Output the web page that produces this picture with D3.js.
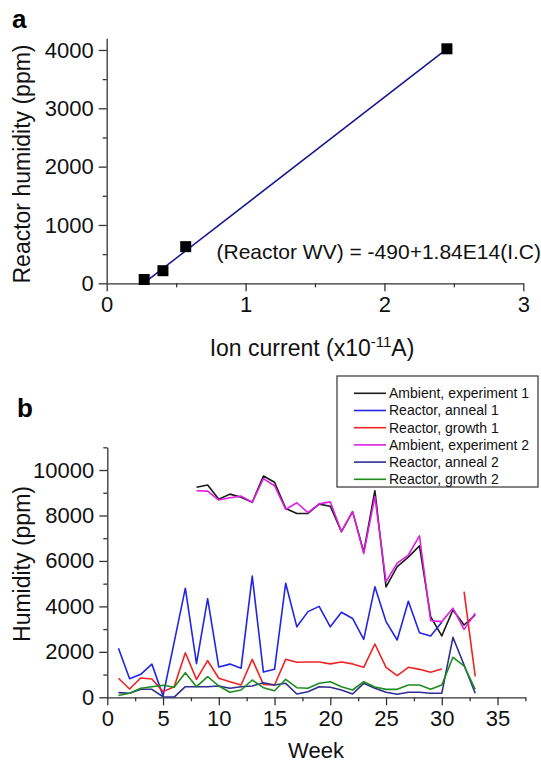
<!DOCTYPE html>
<html>
<head>
<meta charset="utf-8">
<script src="https://cdn.jsdelivr.net/npm/d3@7"></script>
<style>
  body { margin: 0; background: #fff; }
  svg { display: block; font-family: Arial, "Liberation Sans", sans-serif; }
  .axis path, .axis line { stroke: #333; stroke-width: 1.3; }
  .axis text { fill: #111; font-size: 22px; }
</style>
</head>
<body>
<svg id="chart" width="541" height="764"></svg>
<script>
// panel a: calibration points
const ionCurrent = [0.27, 0.405, 0.569, 2.45];
const reactorHumidity = [65, 216, 628, 4020];
const fitIntercept = -490;
const fitSlope = 1840;   // ppm per 1e-11 A
const fitRange = [0.27, 2.45];

// panel b: weekly humidity
const weeks = d3.range(1, 34);
const ambient1 = [null, null, null, null, null, null, null,
  9240, 9340, 8710, 8940, 8800, 8580, 9735, 9460, 8310, 8090, 8090, 8500, 8410, 7290,
  8170, 6400, 9090, 4860, 5750, 6170, 6660, 3550, 2700, 3840, 3180, 3620];
const anneal1 = [2160, 820, 1010, 1460, 60, 2430, 4800, 1480, 4340, 1330, 1460, 1280,
  5330, 1110, 1230, 5020, 3100, 3770, 4000, 3100, 3740, 3470, 2550, 4860, 3330, 2520,
  4230, 2840, 2700, 3300, null, null, null];
const growth1 = [840, 365, 850, 805, 250, 466, 1960, 790, 1610, 836, 686, 540, 1670,
  570, 540, 1670, 1540, 1550, 1550, 1470, 1550, 1470, 1320, 2346, 1320, 950, 1320,
  1230, 1100, 1250, null, 4650, 920];
const ambient2 = [null, null, null, null, null, null, null,
  9090, 9070, 8680, 8780, 8850, 8580, 9620, 9310, 8270, 8560, 8130, 8510, 8600, 7290,
  8170, 6330, 8830, 5090, 5900, 6260, 7100, 3370, 3330, 3920, 2990, 3700];
const anneal2 = [205, 176, 352, 352, 26, 10, 466, 466, 466, 497, 396, 466, 497, 640,
  540, 616, 147, 248, 466, 440, 321, 145, 616, 396, 220, 132, 220, 220, 176, 176,
  2640, 1420, 176];
const growth2 = [80, 176, 396, 466, 528, 440, 1080, 466, 906, 497, 220, 321, 761, 422,
  290, 792, 422, 396, 616, 686, 466, 321, 686, 450, 350, 350, 541, 541, 350, 541,
  1760, 1380, 350];

const seriesNames = ["Ambient, experiment 1", "Reactor, anneal 1", "Reactor, growth 1",
  "Ambient, experiment 2", "Reactor, anneal 2", "Reactor, growth 2"];
const seriesValues = [ambient1, anneal1, growth1, ambient2, anneal2, growth2];
const seriesColors = ["#1a1a1a", "#2424e6", "#ee2424", "#e020e0", "#2e2e90", "#1e8c1e"];

const svg = d3.select("#chart");

// helper: major axis with labels + minor ticks without labels
function drawAxis(g, axisFn, scale, major, minor) {
  g.append("g").attr("class", "axis")
    .call(axisFn(scale).tickValues(minor).tickSize(4).tickSizeOuter(0).tickFormat(""))
    .call(a => a.select(".domain").remove());
  g.append("g").attr("class", "axis")
    .call(axisFn(scale).tickValues(major).tickSize(8).tickSizeOuter(0).tickPadding(5).tickFormat(d3.format("d")));
}

// ---------- panel a ----------
const xa = d3.scaleLinear().domain([0, 3]).range([106.7, 523.3]);
const ya = d3.scaleLinear().domain([0, 4200]).range([283.3, 38.3]);

const ga = svg.append("g");
drawAxis(ga.append("g").attr("transform", "translate(0,283.3)"), d3.axisBottom, xa,
  [0, 1, 2, 3], [0.5, 1.5, 2.5]);
drawAxis(ga.append("g").attr("transform", "translate(106.7,0)"), d3.axisLeft, ya,
  [0, 1000, 2000, 3000, 4000], [500, 1500, 2500, 3500]);

ga.append("line")
  .attr("x1", xa(fitRange[0])).attr("y1", ya(fitIntercept + fitSlope * fitRange[0]))
  .attr("x2", xa(fitRange[1])).attr("y2", ya(fitIntercept + fitSlope * fitRange[1]))
  .attr("stroke", "#14148c").attr("stroke-width", 1.5);

ga.selectAll("rect.pt").data(ionCurrent).enter().append("rect")
  .attr("class", "pt")
  .attr("x", d => xa(d) - 5.5)
  .attr("y", (d, i) => ya(reactorHumidity[i]) - 5.5)
  .attr("width", 11).attr("height", 11)
  .attr("fill", "#000");

ga.append("text").attr("x", 216.5).attr("y", 258.5)
  .attr("font-size", 21).attr("fill", "#111")
  .text("(Reactor WV) = -490+1.84E14(I.C)");

ga.append("text").attr("transform", "translate(30,164) rotate(-90)")
  .attr("text-anchor", "middle").attr("font-size", 23).attr("fill", "#111")
  .text("Reactor humidity (ppm)");

const xlab = ga.append("text").attr("x", 312).attr("y", 356)
  .attr("text-anchor", "middle").attr("font-size", 23).attr("fill", "#111");
xlab.append("tspan").text("Ion current (x10");
xlab.append("tspan").attr("font-size", 15).attr("dy", -9).text("-11");
xlab.append("tspan").attr("dy", 9).text("A)");

svg.append("text").attr("x", 12).attr("y", 28)
  .attr("font-size", 26).attr("font-weight", "bold").text("a");

// ---------- panel b ----------
const xb = d3.scaleLinear().domain([0, 37.5]).range([107.3, 525.4]);
const yb = d3.scaleLinear().domain([0, 11000]).range([697.3, 447.3]);

const gb = svg.append("g");
drawAxis(gb.append("g").attr("transform", "translate(0,697.3)"), d3.axisBottom, xb,
  d3.range(0, 36, 5), d3.range(2.5, 38, 5));
drawAxis(gb.append("g").attr("transform", "translate(107.3,0)"), d3.axisLeft, yb,
  d3.range(0, 10001, 2000), d3.range(1000, 11001, 2000));

const line = d3.line()
  .defined(d => d[1] != null)
  .x(d => xb(d[0]))
  .y(d => yb(d[1]));

seriesValues.forEach((vals, i) => {
  gb.append("path")
    .datum(weeks.map((w, j) => [w, vals[j]]))
    .attr("d", line)
    .attr("fill", "none")
    .attr("stroke", seriesColors[i])
    .attr("stroke-width", 1.6)
    .attr("stroke-linejoin", "round");
});

gb.append("text").attr("transform", "translate(30,564) rotate(-90)")
  .attr("text-anchor", "middle").attr("font-size", 23).attr("fill", "#111")
  .text("Humidity (ppm)");
gb.append("text").attr("x", 316).attr("y", 758)
  .attr("text-anchor", "middle").attr("font-size", 22).attr("fill", "#111")
  .text("Week");

svg.append("text").attr("x", 17).attr("y", 417)
  .attr("font-size", 26).attr("font-weight", "bold").text("b");

// legend
const leg = gb.append("g");
leg.append("rect").attr("x", 337).attr("y", 376).attr("width", 201).attr("height", 111)
  .attr("fill", "#fff").attr("stroke", "#333").attr("stroke-width", 1.2);
seriesNames.forEach((name, i) => {
  const yy = 393.3 + i * 17.2;
  leg.append("line").attr("x1", 354).attr("x2", 386).attr("y1", yy).attr("y2", yy)
    .attr("stroke", seriesColors[i]).attr("stroke-width", 1.6);
  leg.append("text").attr("x", 389).attr("y", yy).attr("dy", "0.35em")
    .attr("font-size", 14).attr("fill", "#111").text(name);
});
</script>
</body>
</html>
